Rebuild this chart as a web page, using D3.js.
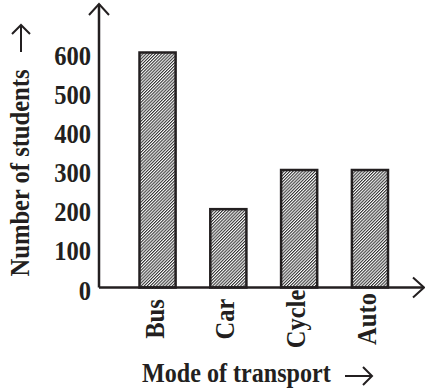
<!DOCTYPE html>
<html><head><meta charset="utf-8">
<script src="https://cdn.jsdelivr.net/npm/d3@7"></script>
<style>html,body{margin:0;padding:0;background:#fff;}svg{display:block;}</style>
</head><body>
<svg id="chart" width="425" height="392"></svg>
<script>
const categories = ["Bus", "Car", "Cycle", "Auto"];
const students = [600, 200, 300, 300];
const tickValues = [0, 100, 200, 300, 400, 500, 600];
const xTitle = "Mode of transport";
const yTitle = "Number of students";

const ink = "#231f20";
const font = "'Liberation Serif','Times New Roman',serif";
const fs = 27, sx = 0.91;
const svg = d3.select("#chart");

const defs = svg.append("defs");
defs.append("pattern").attr("id", "hatch").attr("patternUnits", "userSpaceOnUse")
  .attr("width", 2.2).attr("height", 10).attr("patternTransform", "rotate(45)")
  .append("line").attr("x1", 0.55).attr("y1", -1).attr("x2", 0.55).attr("y2", 11)
  .attr("stroke", "#333").attr("stroke-width", 1.1);

const x0 = 99, y0 = 287.5;
const x = d3.scaleBand().domain(categories).range([139.5, 388]).paddingInner(0.49).paddingOuter(0);
const y = d3.scaleLinear().domain([0, 600]).range([y0, 52.5]);

// bars
svg.append("g").selectAll("rect").data(categories).join("rect")
  .attr("x", d => x(d)).attr("width", x.bandwidth())
  .attr("y", (d, i) => y(students[i])).attr("height", (d, i) => y0 - y(students[i]))
  .attr("fill", "url(#hatch)").attr("stroke", ink).attr("stroke-width", 2.5);

// axes lines with arrows
const ax = svg.append("g").attr("stroke", ink).attr("fill", "none").attr("stroke-width", 2.5);
ax.append("path").attr("d", `M${x0},${y0}V4`);
ax.append("path").attr("d", `M${x0-10},15L${x0},4L${x0+10},15`).attr("stroke-width", 2);
ax.append("path").attr("d", `M${x0},${y0}H423`);
ax.append("path").attr("d", `M413,${y0-10}L424,${y0}L413,${y0+10}`).attr("stroke-width", 2);

function styleText(sel, size) {
  return sel.attr("font-family", font).attr("font-weight", "bold")
    .attr("font-size", size).attr("fill", ink);
}

// y tick labels
styleText(svg.append("g").selectAll("text").data(tickValues).join("text")
  .attr("transform", d => `translate(91,${y(d) + 12}) scale(${sx},1)`)
  .attr("text-anchor", "end"), fs).text(d => d);

// category labels
styleText(svg.append("g").selectAll("text").data(categories).join("text")
  .attr("transform", d => `translate(${x(d) + x.bandwidth()/2},319) rotate(-90) scale(${sx},1)`)
  .attr("dy", 6).attr("text-anchor", "middle"), fs).text(d => d);

// x title
styleText(svg.append("text").attr("transform", `translate(142,382) scale(${sx},1)`), 26.5).text(xTitle);
svg.append("path").attr("d", "M345,376H372M363,367L372,376L363,385")
  .attr("stroke", ink).attr("fill", "none").attr("stroke-width", 2);

// y title
styleText(svg.append("text").attr("transform", `translate(29,173) rotate(-90) scale(${sx},1)`)
  .attr("text-anchor", "middle"), fs).text(yTitle);
svg.append("path").attr("d", "M21,52V25M12,34L21,25L30,34")
  .attr("stroke", ink).attr("fill", "none").attr("stroke-width", 2);
</script>
</body></html>
